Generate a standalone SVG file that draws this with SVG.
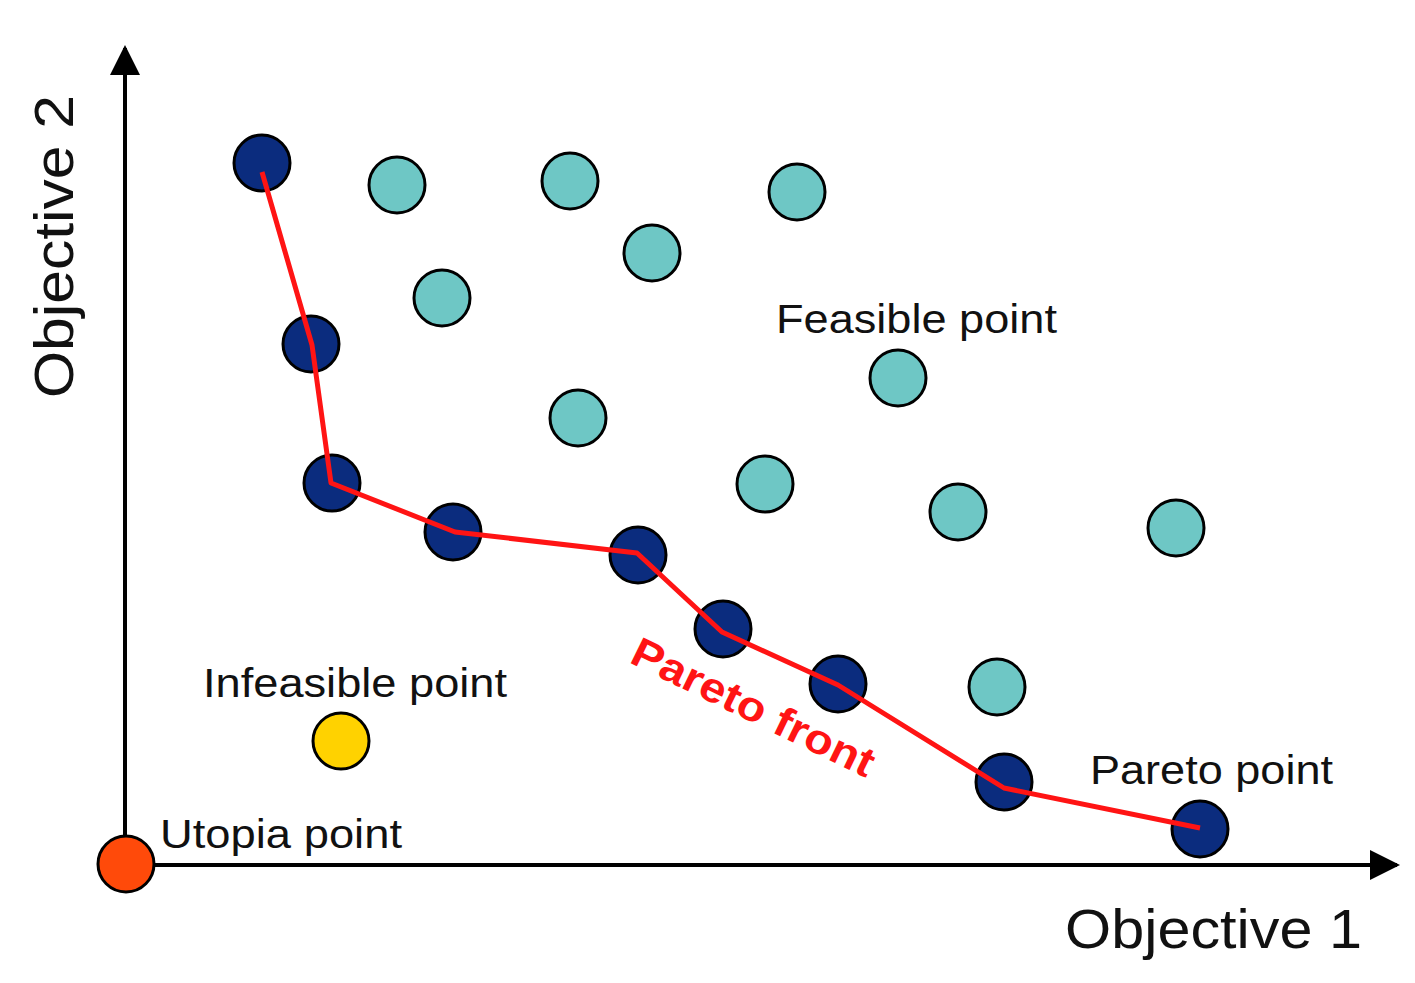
<svg xmlns="http://www.w3.org/2000/svg" width="1415" height="983" viewBox="0 0 1415 983">
<style>
.d{fill:#0b2c7e;stroke:#000;stroke-width:3}
.t{fill:#6ec7c5;stroke:#000;stroke-width:3}
.l{font-family:"Liberation Sans",Arial,sans-serif;font-size:41px;fill:#111}
.ax{font-family:"Liberation Sans",Arial,sans-serif;font-size:55px;fill:#111}
</style>
<defs>
<marker id="b" viewBox="0 0 10 10" refX="9" refY="5" markerWidth="36" markerHeight="30" markerUnits="userSpaceOnUse" orient="auto"><path d="M0,0L10,5L0,10z" fill="#000"/></marker></defs>
<rect width="1415" height="983" fill="#fff"/>
<g id="connectors">
<line x1="125" y1="865" x2="125" y2="48" stroke="#000" stroke-width="4" marker-end="url(#b)"/>
<line x1="125" y1="865" x2="1397" y2="865" stroke="#000" stroke-width="4" marker-end="url(#b)"/>
</g>
<g id="feasible">
<circle class="t" cx="397" cy="185" r="28"/><circle class="t" cx="570" cy="181" r="28"/><circle class="t" cx="797" cy="192" r="28"/><circle class="t" cx="652" cy="253" r="28"/><circle class="t" cx="442" cy="298" r="28"/><circle class="t" cx="898" cy="378" r="28"/><circle class="t" cx="578" cy="418" r="28"/><circle class="t" cx="765" cy="484" r="28"/><circle class="t" cx="958" cy="512" r="28"/><circle class="t" cx="1176" cy="528" r="28"/><circle class="t" cx="997" cy="687" r="28"/>
</g>
<g id="pareto">
<circle class="d" cx="262" cy="163" r="28"/><circle class="d" cx="311" cy="344" r="28"/><circle class="d" cx="332" cy="483" r="28"/><circle class="d" cx="453" cy="532" r="28"/><circle class="d" cx="638" cy="555" r="28"/><circle class="d" cx="723" cy="629" r="28"/><circle class="d" cx="838" cy="684" r="28"/><circle class="d" cx="1004" cy="782" r="28"/><circle class="d" cx="1200" cy="829" r="28"/>
</g>
<g id="front"><polyline points="262,172 312,345 331,483 455,532 637,553 722,632 838,685 1004,788 1200,828" fill="none" stroke="#ff1414" stroke-width="5" stroke-linejoin="round"/></g>
<g id="infeasible"><circle cx="341" cy="741" r="28" fill="#ffd200" stroke="#000" stroke-width="3"/></g>
<g id="utopia"><circle cx="126" cy="864" r="28" fill="#ff4a0a" stroke="#000" stroke-width="3"/></g>
<g id="labels">
<text class="l" x="776" y="333" textLength="281" lengthAdjust="spacingAndGlyphs">Feasible point</text>
<text class="l" x="203" y="697" textLength="304" lengthAdjust="spacingAndGlyphs">Infeasible point</text>
<text class="l" x="160" y="848" textLength="242" lengthAdjust="spacingAndGlyphs">Utopia point</text>
<text class="l" x="1090" y="784" textLength="243" lengthAdjust="spacingAndGlyphs">Pareto point</text>
<text class="ax" x="1065" y="948" textLength="297" lengthAdjust="spacingAndGlyphs">Objective 1</text>
<text class="ax" transform="translate(73,398) rotate(-90)" textLength="303" lengthAdjust="spacingAndGlyphs">Objective 2</text>
<text transform="translate(628,662) rotate(26)" font-family="Liberation Sans,Arial,sans-serif" font-weight="bold" font-size="42" fill="#ff1414" textLength="265" lengthAdjust="spacingAndGlyphs">Pareto front</text>
</g>
</svg>
